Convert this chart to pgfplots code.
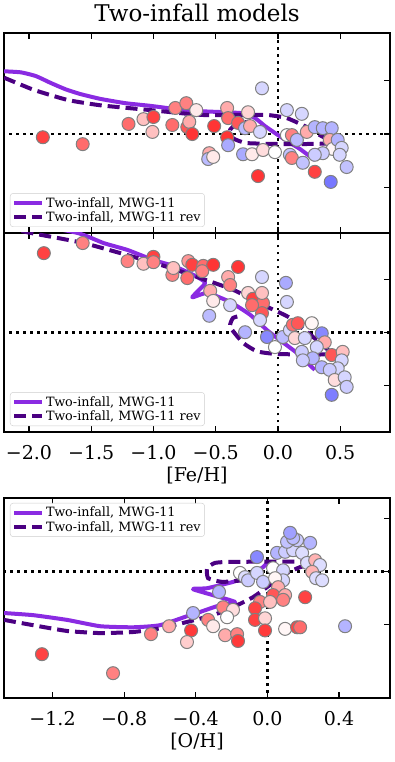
\documentclass[border=0pt]{standalone}
\usepackage{fontspec}
\setmainfont{DejaVu Serif}
\usepackage{pgfplots}
\pgfplotsset{compat=1.18}
\definecolor{mwg}{RGB}{138,43,226}
\definecolor{mwgrev}{RGB}{75,0,130}

\pgfplotsset{
  panel/.style={
    scale only axis, width=386pt,
    axis line style={line width=1.3pt},
    tick align=inside, major tick length=6pt,
    every tick/.style={black, line width=1.2pt},
    xtick pos=both, ytick pos=right, yticklabels={},
    xticklabel pos=lower,
    tick label style={font=\fontsize{19}{22}\selectfont},
    xticklabel style={yshift=-10pt},
    label style={font=\fontsize{19}{22}\selectfont},
    colormap={bwr}{rgb255=(255,45,45) rgb255=(255,255,255) rgb255=(85,85,255)},
    point meta min=0, point meta max=1,
    legend cell align=left,
    legend image code/.code={\draw[#1] (0pt,0pt) -- (28pt,0pt);},
    legend style={draw=black!20, rounded corners=3pt, fill=white, fill opacity=0.8,
      text opacity=1, font=\fontsize{12.8}{14}\selectfont, inner sep=2pt, row sep=-1pt},
  },
  stars/.style={scatter, only marks, mark=*, mark size=6.5pt, scatter src=explicit,
    scatter/use mapped color={draw=black!50, fill=mapped color},
    mark options={line width=1pt}, forget plot},
  zeroline/.style={black, line width=2.8pt, dash pattern=on 2.8pt off 4.2pt, forget plot},
  m11/.style={mwg, line width=4pt, line join=round, smooth, tension=0.3},
  m11rev/.style={mwgrev, line width=4pt, dash pattern=on 12pt off 6pt, smooth, tension=0.3},
}

\begin{document}
\begin{tikzpicture}
\useasboundingbox (0,0) rectangle (395pt,762pt);

% panel 1
\begin{axis}[panel, at={(4pt,529pt)}, anchor=south west, height=200pt,
  xmin=-2.2, xmax=0.9, ymin=-0.186, ymax=0.19,
  xtick={-2,-1.5,-1,-0.5,0,0.5}, xticklabels={},
  ytick={-0.1,0,0.1},
  title={Two-infall models}, title style={font=\fontsize{23}{26}\selectfont, yshift=2pt},
  legend style={at={(0.0155,0.03)}, anchor=south west}]
\addplot[zeroline] coordinates {(0,-1) (0,1)};
\addplot[zeroline] coordinates {(-3,0) (2,0)};
\addplot[stars] table[meta=c] {
x y c
-1.888 -0.006 0.05
-1.568 -0.019 0.15
-1.200 0.019 0.15
-1.080 0.028 0.35
-1.000 0.032 0.05
-1.008 0.004 0.35
-0.848 0.017 0.15
-0.824 0.049 0.2
-0.736 0.058 0.2
-0.656 0.045 0.45
-0.728 0.013 0.1
-0.712 0.023 0.3
-0.688 0.000 0.02
-0.512 0.015 0.02
-0.408 0.049 0.3
-0.400 0.030 0.15
-0.408 -0.006 0.02
-0.400 -0.021 0.75
-0.552 -0.036 0.3
-0.560 -0.047 0.7
-0.520 -0.043 0.45
-0.240 0.041 0.4
-0.320 0.021 0.1
-0.264 0.011 0.7
-0.224 0.015 0.3
-0.128 0.086 0.62
-0.144 0.004 0.62
-0.280 -0.038 0.75
-0.208 -0.038 0.45
-0.120 -0.030 0.42
-0.024 -0.034 0.5
-0.160 -0.079 0.02
0.072 0.045 0.62
0.192 0.038 0.62
0.072 -0.002 0.5
0.112 -0.002 0.2
0.152 -0.011 0.7
0.096 -0.039 0.68
0.112 -0.045 0.2
0.200 -0.054 0.68
0.296 -0.071 0.05
0.232 0.004 0.3
0.296 0.013 0.72
0.360 0.011 0.72
0.432 0.011 0.72
0.416 -0.011 0.3
0.440 -0.028 0.48
0.480 -0.011 0.72
0.512 -0.026 0.62
0.496 -0.039 0.62
0.552 -0.062 0.68
0.424 -0.090 0.9
0.360 -0.036 0.65
0.296 -0.039 0.65
};
\addplot[m11] coordinates {(-2.2,0.118) (-2.064,0.116) (-1.944,0.109) (-1.824,0.096)
  (-1.704,0.084) (-1.584,0.075) (-1.424,0.066) (-1.224,0.058) (-1.024,0.053)
  (-0.824,0.047) (-0.624,0.043) (-0.424,0.041) (-0.280,0.039) (-0.184,0.030)
  (-0.104,0.015) (-0.024,0.002) (0.072,-0.013) (0.176,-0.028) (0.296,-0.049)};
\addlegendentry{Two-infall, MWG-11}
\addplot[m11rev] coordinates {(-2.2,0.106) (-1.96,0.083) (-1.688,0.064) (-1.424,0.054)
  (-1.024,0.045) (-0.624,0.036) (-0.304,0.036) (-0.088,0.036) (0.072,0.030)
  (0.232,0.013) (0.336,-0.002) (0.44,-0.017) (0.096,-0.019) (-0.248,-0.017)
  (-0.36,-0.008) (-0.384,0.008) (-0.32,0.021) (-0.224,0.023)};
\addlegendentry{Two-infall, MWG-11 rev}
\end{axis}

% panel 2
\begin{axis}[panel, at={(4pt,330pt)}, anchor=south west, height=199pt,
  xmin=-2.2, xmax=0.9, ymin=-0.187, ymax=0.188,
  xtick={-2,-1.5,-1,-0.5,0,0.5},
  xticklabels={−2.0,−1.5,−1.0,−0.5,0.0,0.5},
  ytick={-0.1,0,0.1},
  xlabel={[Fe/H]},
  legend style={at={(0.0155,0.03)}, anchor=south west}]
\addplot[zeroline] coordinates {(0,-1) (0,1)};
\addplot[zeroline] coordinates {(-3,0) (2,0)};
\addplot[stars] table[meta=c] {
x y c
-1.880 0.150 0.05
-1.568 0.169 0.2
-1.208 0.135 0.2
-1.080 0.130 0.35
-1.000 0.143 0.05
-1.000 0.133 0.2
-0.848 0.109 0.2
-0.840 0.122 0.35
-0.728 0.103 0.15
-0.720 0.135 0.25
-0.688 0.128 0.05
-0.600 0.126 0.15
-0.608 0.116 0.2
-0.520 0.128 0.02
-0.320 0.124 0.02
-0.400 0.105 0.3
-0.384 0.090 0.2
-0.544 0.079 0.3
-0.520 0.060 0.45
-0.552 0.032 0.7
-0.384 0.052 0.62
-0.240 0.075 0.4
-0.200 0.064 0.05
-0.120 0.056 0.15
-0.128 0.037 0.1
-0.128 0.105 0.62
0.064 0.094 0.75
0.072 0.058 0.62
-0.128 0.075 0.35
-0.208 0.052 0.15
-0.144 0.024 0.62
-0.264 0.001 0.72
-0.088 -0.008 0.85
-0.024 -0.027 0.5
0.040 -0.008 0.7
0.096 0.005 0.62
0.120 0.015 0.15
0.160 0.018 0.1
0.272 0.018 0.48
0.352 -0.001 0.85
0.136 -0.010 0.4
0.216 -0.010 0.62
0.376 -0.018 0.3
0.312 -0.027 0.62
0.192 -0.036 0.65
0.280 -0.048 0.72
0.200 -0.052 0.65
0.432 -0.042 0.1
0.520 -0.036 0.35
0.512 -0.052 0.62
0.480 -0.067 0.62
0.352 -0.065 0.72
0.416 -0.070 0.65
0.456 -0.089 0.42
0.536 -0.084 0.62
0.552 -0.102 0.65
0.432 -0.117 0.88
};
\addplot[m11] coordinates {(-2.064,0.209) (-1.608,0.188) (-1.4,0.169) (-1.208,0.156)
  (-1.0,0.137) (-0.84,0.126) (-0.68,0.109) (-0.584,0.094) (-0.688,0.067)
  (-0.568,0.075) (-0.384,0.058) (-0.224,0.034) (-0.088,0.005) (0.016,-0.014)
  (0.152,-0.038) (0.296,-0.070)};
\addlegendentry{Two-infall, MWG-11}
\addplot[m11rev] coordinates {(-2.2,0.199) (-1.984,0.188) (-1.56,0.169) (-1.16,0.143)
  (-0.888,0.124) (-0.624,0.103) (-0.36,0.081) (-0.088,0.049) (0.096,0.028)
  (0.312,-0.014) (0.416,-0.040) (-0.008,-0.040) (-0.168,-0.035) (-0.28,-0.019)
  (-0.384,0.011) (-0.36,0.028) (-0.28,0.033)};
\addlegendentry{Two-infall, MWG-11 rev}
\end{axis}

% panel 3
\begin{axis}[panel, at={(4pt,64pt)}, anchor=south west, height=200pt,
  xmin=-1.471, xmax=0.685, ymin=-0.240, ymax=0.139,
  xtick={-1.2,-0.8,-0.4,0,0.4},
  xticklabels={−1.2,−0.8,−0.4,0.0,0.4},
  ytick={-0.1,0,0.1},
  xlabel={[O/H]},
  legend style={at={(0.0155,0.975)}, anchor=north west}]
\addplot[zeroline] coordinates {(0,-1) (0,1)};
\addplot[zeroline] coordinates {(-3,0) (2,0)};
\addplot[stars] table[meta=c] {
x y c
-1.259 -0.157 0.05
-0.862 -0.193 0.2
-0.650 -0.119 0.2
-0.549 -0.104 0.3
-0.426 -0.112 0.03
-0.449 -0.134 0.38
-0.415 -0.079 0.72
-0.331 -0.092 0.2
-0.303 -0.104 0.45
-0.247 -0.068 0.2
-0.270 -0.039 0.72
-0.192 -0.073 0.42
-0.225 -0.087 0.5
-0.236 -0.121 0.3
-0.169 -0.119 0.2
-0.164 -0.132 0.03
-0.153 -0.003 0.5
-0.125 -0.011 0.6
-0.108 -0.017 0.65
-0.058 -0.003 0.62
-0.024 -0.020 0.65
-0.058 0.027 0.85
0.032 0.006 0.5
0.088 0.002 0.62
0.088 -0.017 0.62
0.043 -0.013 0.48
0.060 -0.030 0.3
0.032 -0.045 0.1
0.099 -0.045 0.3
0.088 -0.054 0.2
-0.041 -0.058 0.2
-0.069 -0.070 0.05
0.015 -0.058 0.35
0.211 -0.049 0.05
-0.069 -0.092 0.05
-0.013 -0.089 0.4
-0.013 -0.112 0.03
0.099 -0.109 0.48
0.166 -0.106 0.05
0.183 -0.106 0.15
0.434 -0.104 0.72
0.054 0.035 0.72
0.099 0.037 0.65
0.144 0.040 0.62
0.194 0.035 0.6
0.110 0.056 0.68
0.166 0.059 0.65
0.239 0.054 0.72
0.144 0.063 0.7
0.127 0.073 0.78
0.222 0.016 0.6
0.267 0.021 0.32
0.294 0.012 0.6
0.250 -0.001 0.32
0.272 -0.013 0.6
0.306 -0.017 0.6
};
\addplot[m11] coordinates {(-1.471,-0.079) (-1.309,-0.083) (-1.119,-0.092) (-0.934,-0.104)
  (-0.750,-0.106) (-0.599,-0.102) (-0.432,-0.083) (-0.376,-0.077) (-0.281,-0.066)
  (-0.180,-0.058) (-0.415,-0.034) (-0.337,-0.032) (-0.192,-0.020) (-0.097,-0.007)
  (-0.024,0.008) (0.004,0.018)};
\addlegendentry{Two-infall, MWG-11}
\addplot[m11rev] coordinates {(-1.471,-0.092) (-1.309,-0.102) (-1.119,-0.113) (-0.934,-0.117)
  (-0.750,-0.115) (-0.599,-0.108) (-0.449,-0.096) (-0.303,-0.083) (-0.192,-0.068)
  (-0.080,-0.049) (-0.002,-0.030) (0.088,-0.007) (0.183,0.008) (0.294,0.018)
  (-0.192,0.018) (-0.292,0.016) (-0.337,0.006) (-0.331,-0.013) (-0.253,-0.020)
  (-0.136,-0.017)};
\addlegendentry{Two-infall, MWG-11 rev}
\end{axis}
\end{tikzpicture}
\end{document}
